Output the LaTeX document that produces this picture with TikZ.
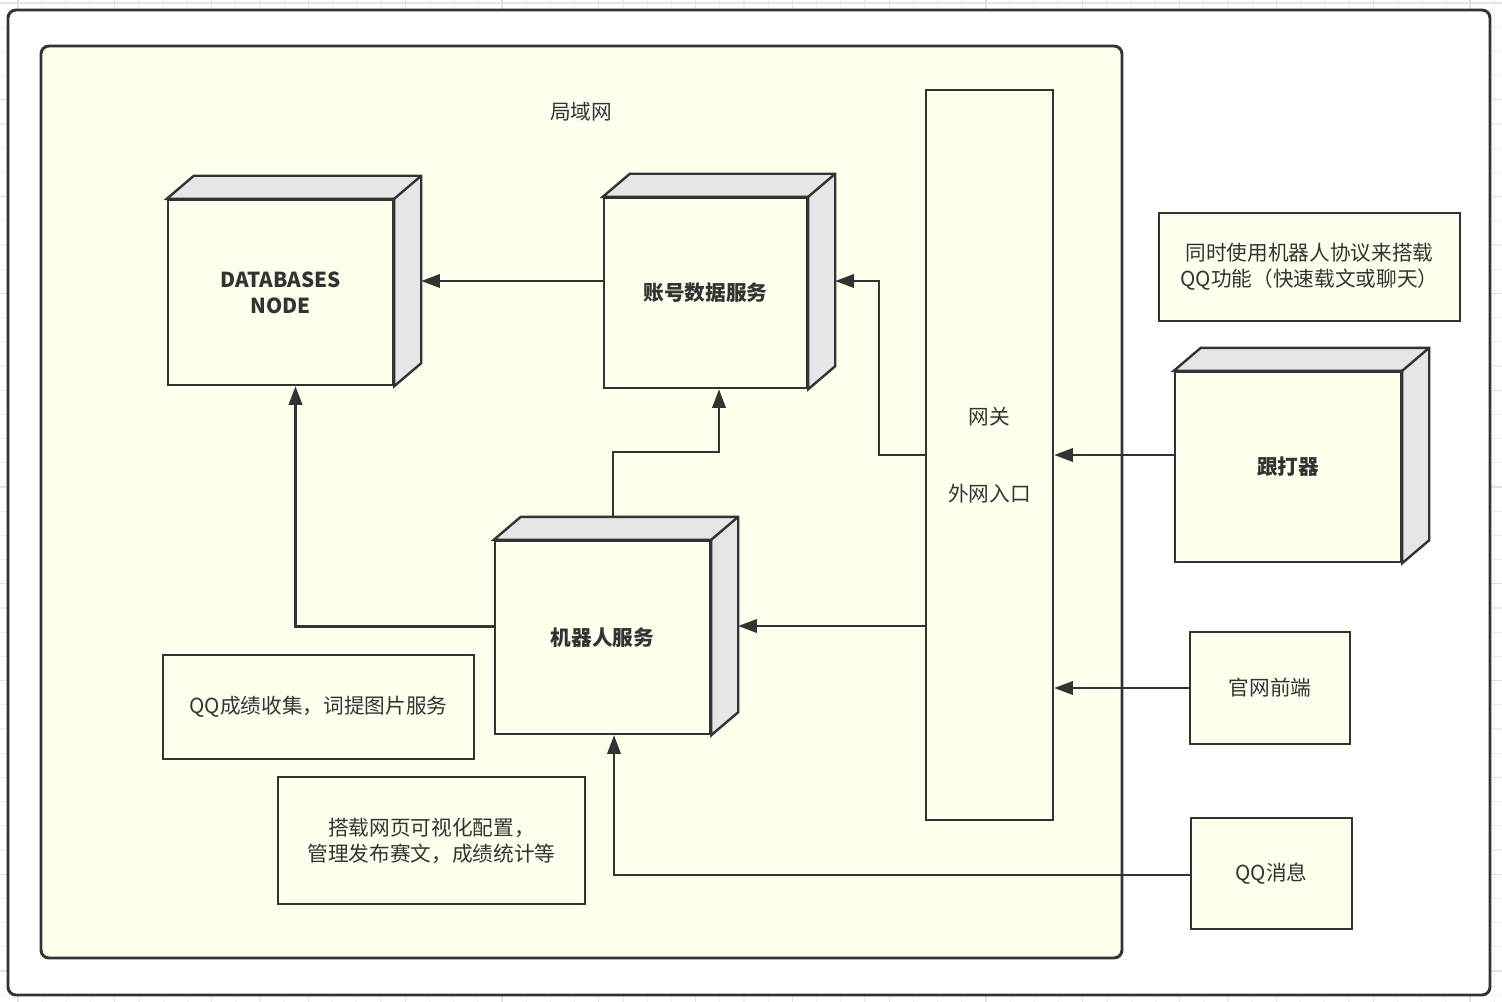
\documentclass[tikz,border=0pt]{standalone}
\usepackage{fontspec}
\setmainfont{Noto Sans CJK SC}
\usetikzlibrary{arrows.meta,calc}
\definecolor{ink}{HTML}{333333}
\definecolor{paper}{HTML}{FFFFEE}
\definecolor{sideface}{HTML}{E6E6E6}
\definecolor{gridminor}{HTML}{F0F0F0}
\definecolor{gridmajor}{HTML}{E3E3E3}
\tikzset{
  px/.style={x=0.75pt,y=-0.75pt},
  frame/.style={draw=ink,line width=2.2pt,rounded corners=6pt},
  box/.style={draw=ink,fill=paper,line width=1.8pt,inner sep=0pt,align=center,
    text=ink,font=\fontsize{15.5pt}{19.5pt}\selectfont},
  cubefront/.style={box,font=\fontsize{15.5pt}{19.5pt}\selectfont\bfseries},
  wh/.style 2 args={minimum width=#1*0.75pt,minimum height=#2*0.75pt},
  sidef/.style={draw=ink,fill=sideface,line width=1.8pt,line join=miter},
  conn/.style={draw=ink,line width=1.8pt,-{Triangle[length=14pt,width=10pt]}},
  lbl/.style={text=ink,font=\fontsize{15.5pt}{19.5pt}\selectfont,inner sep=0pt}
}
\newcommand{\cubesides}[1]{%
  \draw[sidef] (#1.north west) -- ++(27,-23) -| ($(#1.south east)+(27,-23)$) -- (#1.south east) -- (#1.north east) -- cycle;
  \draw[sidef] (#1.north east) -- ++(27,-23);
}
\begin{document}
\begin{tikzpicture}[px]
\useasboundingbox (0,0) rectangle (1502,1002);
% background grid
\foreach \i in {0,...,41} {
  \draw[gridminor,line width=0.8pt] (0,3+24.2*\i) -- (1502,3+24.2*\i);
}
\foreach \i in {0,...,62} {
  \draw[gridminor,line width=0.8pt] (18+24.2*\i,0) -- (18+24.2*\i,1002);
}
\foreach \i in {0,...,10} {
  \draw[gridmajor,line width=0.8pt] (0,3+96.8*\i) -- (1502,3+96.8*\i);
}
\foreach \i in {0,...,15} {
  \draw[gridmajor,line width=0.8pt] (18+96.8*\i,0) -- (18+96.8*\i,1002);
}
% frames
\draw[frame,fill=white] (8,10) rectangle (1490,995);
\draw[frame,fill=paper] (41,46) rectangle (1122,958);
\node[lbl] (lan) at (581,112) {局域网};

% gateway
\node[box,wh={127}{730}] (gw) at (989.5,455) {网关\\[38pt]外网入口};

% cubes
\node[cubefront,wh={225}{185}] (db) at (280.5,292.5) {DATABASES\\NODE};
\cubesides{db}
\node[cubefront,wh={203}{190}] (acc) at (705.5,293) {账号数据服务};
\cubesides{acc}
\node[cubefront,wh={215}{193}] (bot) at (602.5,637.5) {机器人服务};
\cubesides{bot}
\node[cubefront,wh={226}{190}] (gd) at (1288,467) {跟打器};
\cubesides{gd}

% plain boxes
\node[box,wh={301}{108}] (note) at (1309.5,267) {同时使用机器人协议来搭载\\QQ功能（快速载文或聊天）};
\node[box,wh={160}{112}] (web) at (1270,688) {官网前端};
\node[box,wh={161}{111}] (qq) at (1271.5,873.5) {QQ消息};
\node[box,wh={311}{104}] (col) at (318.5,707) {QQ成绩收集，词提图片服务};
\node[box,wh={307}{127}] (cfg) at (431.5,840.5) {搭载网页可视化配置，\\管理发布赛文，成绩统计等};

% connection points
\coordinate (dbR) at ($(db.north east)+(27,0)$);
\coordinate (accR) at ($(acc.north east)+(27,0)$);
\coordinate (botR) at ($(bot.north east)+(27,0)$);
\coordinate (botTop) at ($(bot.north west)+(119,-23)$);
\coordinate (accL) at ($(acc.west)+(0,-12)$);
\coordinate (botL) at ($(bot.west)+(0,-11)$);
\coordinate (dbB) at ($(db.south)+(15,0)$);
\coordinate (accB) at ($(acc.south)+(13.5,0)$);
\coordinate (gwL2) at ($(gw.west)+(0,171)$);
\coordinate (gdL) at ($(gd.west)+(0,-12)$);
\coordinate (qqL) at ($(qq.west)+(0,1.5)$);
\coordinate (botB) at ($(bot.south)+(11.5,0)$);

% connectors
\draw[conn] (accL) -- (accL -| dbR);
\draw[conn] (botL) -| (dbB);
\draw[conn] (botTop) -- ++(0,-65) -| (accB);
\draw[conn] (gw.west) -- ++(-46,0) |- (accL -| accR);
\draw[conn] (gwL2) -- (gwL2 -| botR);
\draw[conn] (gdL) -- (gdL -| gw.east);
\draw[conn] (web.west) -- (web.west -| gw.east);
\draw[conn] (qqL) -| (botB);
\end{tikzpicture}
\end{document}
